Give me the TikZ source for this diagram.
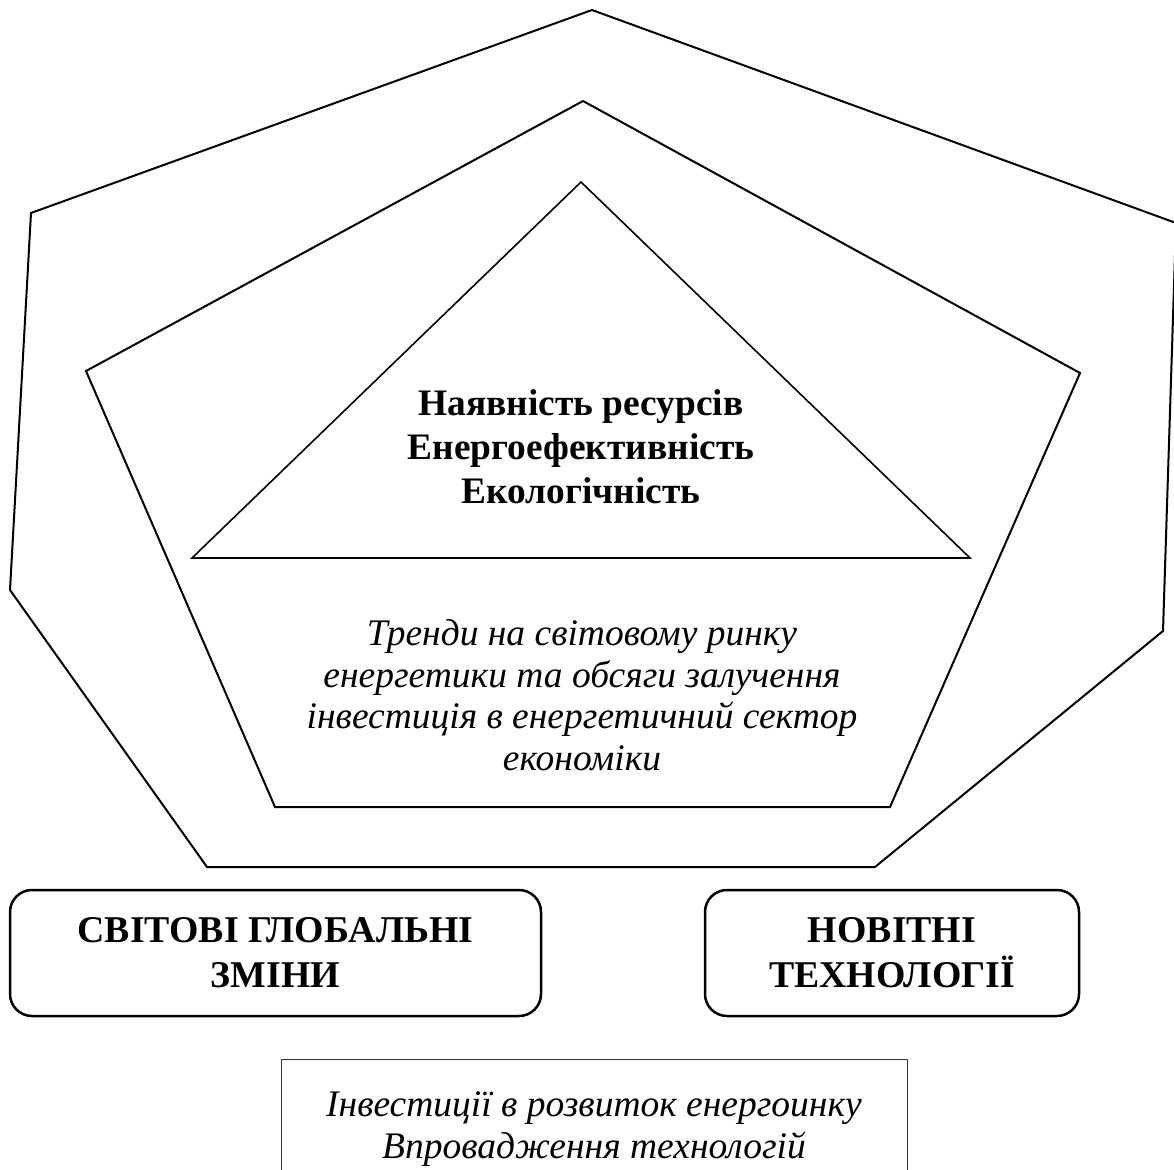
\documentclass[tikz,border=0pt]{standalone}
\usepackage{fontspec}
\setmainfont{Liberation Serif}
\begin{document}
\begin{tikzpicture}[x=1pt,y=-1pt,
  outline/.style={draw=black, line width=2pt, line join=miter},
  thinline/.style={draw=black, line width=1.6pt, line join=miter},
  boldtxt/.style={align=center, font=\fontsize{37.4}{44}\selectfont\bfseries, inner sep=0pt},
  itxt/.style={align=center, font=\fontsize{37.5}{41.5}\selectfont\itshape, inner sep=0pt},
  rbox/.style={draw=black, line width=2.5pt, rounded corners=22pt, align=center,
    font=\fontsize{37.8}{45}\selectfont\bfseries, inner sep=0pt},
  pbox/.style={draw=black!80, line width=1pt}
]
\clip (0,0) rectangle (1174,1169);
\fill[white] (0,0) rectangle (1174,1169);
% outer heptagon
\draw[outline] (592,10) -- (1176,223) -- (1163,631) -- (875,867) -- (207,867) -- (10,590) -- (31,213) -- cycle;
% pentagon
\draw[outline] (583,101) -- (1080,373) -- (890,807) -- (275,807) -- (86,371) -- cycle;
% triangle
\draw[thinline] (581,182) -- (970,558) -- (192,558) -- cycle;
% central text
\node[boldtxt] (core) at (581,447) {Наявність ресурсів\\Енергоефективність\\Екологічність};
\node[itxt] (trend) at (582,695) {Тренди на світовому ринку\\енергетики та обсяги залучення\\інвестиція в енергетичний сектор\\економіки};
% boxes
\node[rbox, minimum width=531pt, minimum height=126pt] (glob) at (275.5,953) {СВІТОВІ ГЛОБАЛЬНІ\\ЗМІНИ};
\node[rbox, minimum width=374pt, minimum height=126pt] (tech) at (892,953) {НОВІТНІ\\ТЕХНОЛОГІЇ};
% bottom box
\draw[pbox] (281,1200) -- (281,1059) coordinate (bl) -- (907,1059) coordinate (br) -- (907,1200);
\node[itxt, font=\fontsize{37.5}{42}\selectfont\itshape] (inv) at (594,1129) {Інвестиції в розвиток енергоинку\\Впровадження технологій};
\end{tikzpicture}
\end{document}
